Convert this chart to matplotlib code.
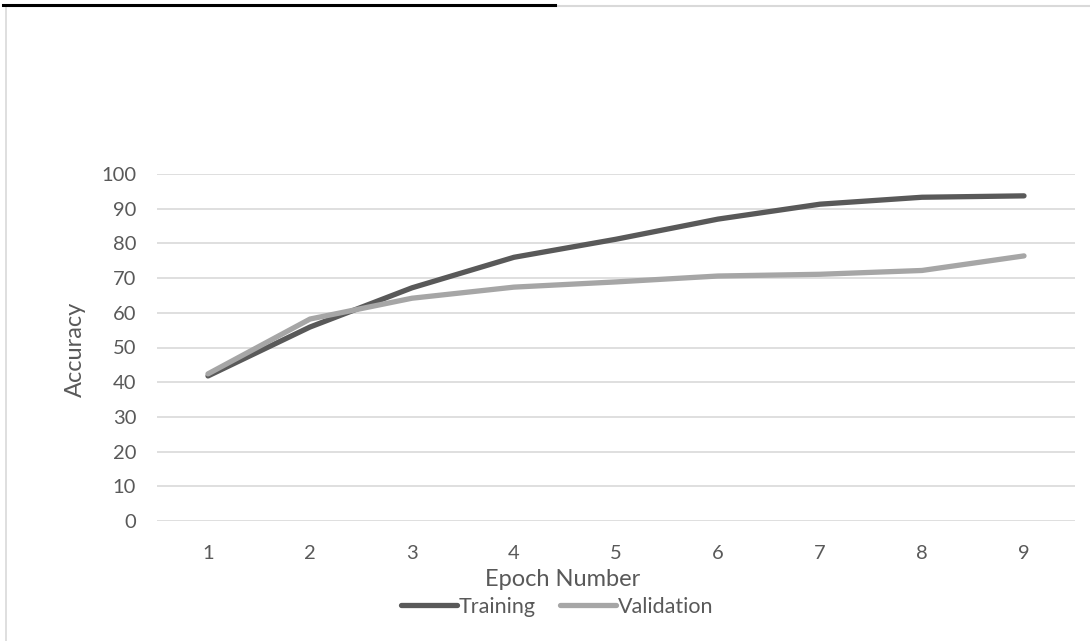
import matplotlib
matplotlib.use("Agg")
import matplotlib.pyplot as plt
from matplotlib.lines import Line2D

plt.rcParams['font.family'] = ['Lato', 'DejaVu Sans']

epochs = [1, 2, 3, 4, 5, 6, 7, 8, 9]
training = [41.8, 55.9, 67.2, 76.0, 81.2, 87.0, 91.3, 93.3, 93.7]
validation = [42.4, 58.2, 64.2, 67.4, 68.9, 70.6, 71.1, 72.2, 76.4]
y_ticks = [0, 10, 20, 30, 40, 50, 60, 70, 80, 90, 100]

txt = '#595959'
W, H = 1090, 641
fig = plt.figure(figsize=(W / 100, H / 100), dpi=100)
ax = fig.add_axes([157 / W, 1 - 521 / H, (1075 - 157) / W, (521 - 174) / H])

ax.plot(epochs, training, color='#595959', lw=3.8, solid_capstyle='round', solid_joinstyle='round', label='Training')
ax.plot(epochs, validation, color='#a6a6a6', lw=3.8, solid_capstyle='round', solid_joinstyle='round', label='Validation')

ax.set_xlim(0.5, 9.5)
ax.set_ylim(0, 100)
ax.set_xticks(epochs)
ax.set_yticks(y_ticks)
ax.grid(axis='y', color='#d9d9d9', lw=1.2)
ax.set_axisbelow(True)
for s in ax.spines.values():
    s.set_visible(False)
ax.tick_params(length=0, labelsize=14.5, colors=txt)
ax.tick_params(axis='y', pad=15)
ax.tick_params(axis='x', pad=17)

# axis titles sit on the chart area centre, not the plot area
fig.text(75 / W, 1 - 349 / H, 'Accuracy', rotation=90, fontsize=17, color=txt, ha='center', va='center')
fig.text(563 / W, 1 - 580 / H, 'Epoch Number', fontsize=17, color=txt, ha='center', va='center')

leg = fig.legend(handles=[Line2D([], [], color='#595959', lw=3.8, solid_capstyle='round'),
                          Line2D([], [], color='#a6a6a6', lw=3.8, solid_capstyle='round')],
                 labels=['Training', 'Validation'], loc='center', bbox_to_anchor=(557 / W, 1 - 607 / H),
                 ncol=2, frameon=False, fontsize=15.5, handlelength=2.6, handletextpad=0.1,
                 columnspacing=1.1, borderpad=0)
for t in leg.get_texts():
    t.set_color(txt)

# chart border and top rule
fig.add_artist(Line2D([6 / W, 6 / W], [0, 1 - 6 / H], color='#d9d9d9', lw=1.2, transform=fig.transFigure))
fig.add_artist(Line2D([6 / W, 1], [1 - 6 / H, 1 - 6 / H], color='#d9d9d9', lw=1.5, transform=fig.transFigure))
fig.add_artist(Line2D([3 / W, 555 / W], [1 - 5 / H, 1 - 5 / H], color='black', lw=2.2, transform=fig.transFigure))

fig.savefig('out.png', dpi=100)
